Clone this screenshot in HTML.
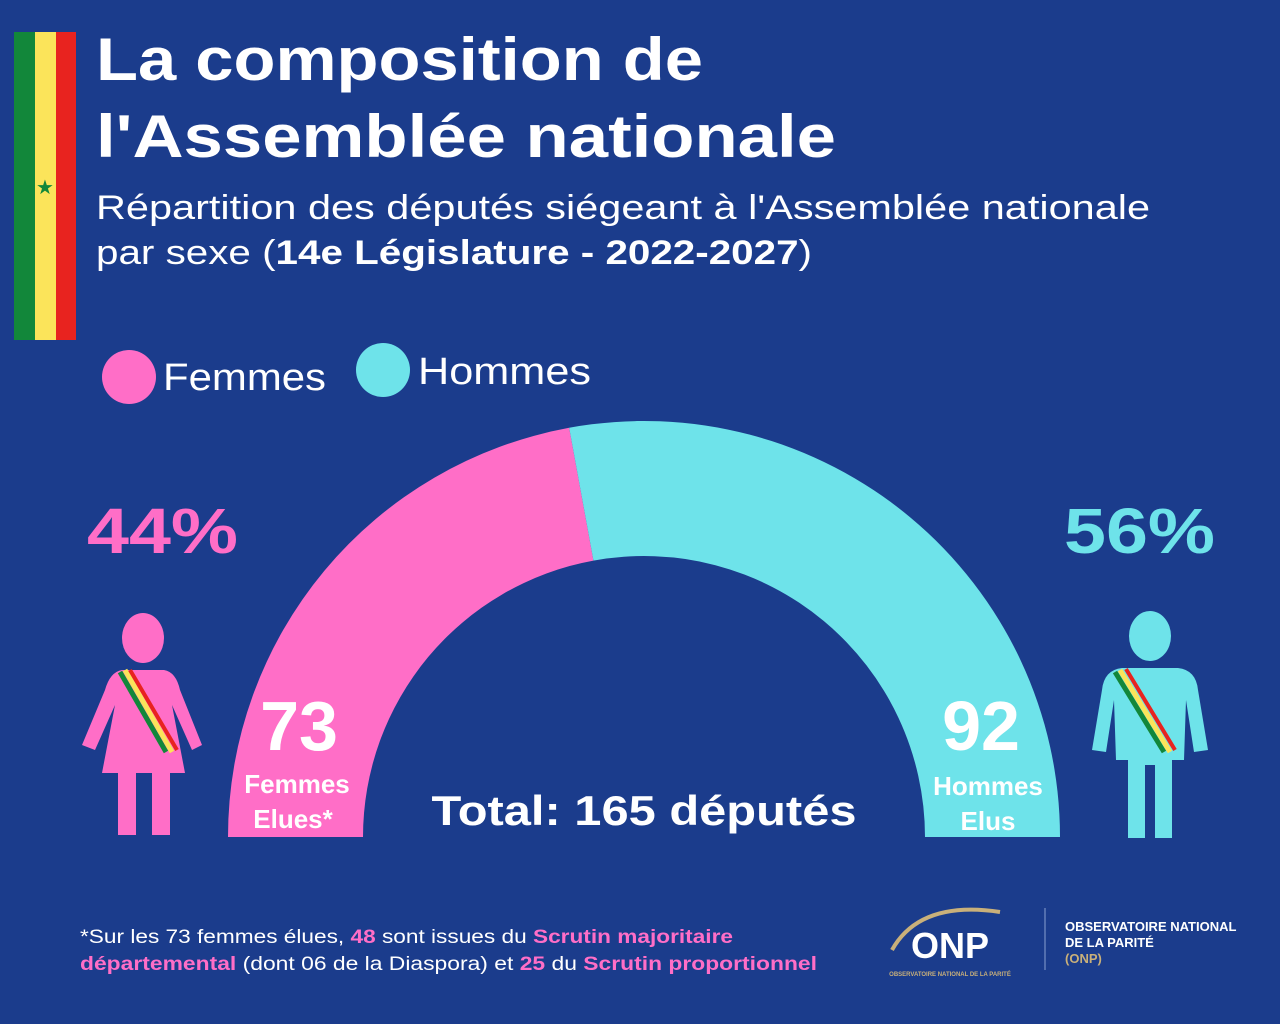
<!DOCTYPE html>
<html><head><meta charset="utf-8"><style>
html,body{margin:0;padding:0;background:#1b3c8c;}
svg{display:block;font-family:"Liberation Sans",sans-serif;}
</style></head><body>
<svg width="1280" height="1024" viewBox="0 0 1280 1024">
<rect width="1280" height="1024" fill="#1b3c8c"/>
<g>
<rect x="14" y="32" width="21" height="308" fill="#12873a"/>
<rect x="35" y="32" width="21" height="308" fill="#fbe45a"/>
<rect x="56" y="32" width="20" height="308" fill="#e8231f"/>
<text x="45" y="194" font-size="20" fill="#12873a" text-anchor="middle">★</text>
</g>
<text fill="#fff" font-weight="bold" font-size="60">
<tspan x="96" y="80" textLength="607" lengthAdjust="spacingAndGlyphs">La composition de</tspan>
<tspan x="96" y="157" textLength="740" lengthAdjust="spacingAndGlyphs">l'Assemblée nationale</tspan></text>
<text fill="#fff" font-size="34">
<tspan x="96" y="219" textLength="1054" lengthAdjust="spacingAndGlyphs">Répartition des députés siégeant à l'Assemblée nationale</tspan>
<tspan x="96" y="264" textLength="716" lengthAdjust="spacingAndGlyphs">par sexe (<tspan font-weight="bold">14e Législature - 2022-2027</tspan>)</tspan></text>
<g>
<circle cx="129" cy="377" r="27" fill="#ff6ec7"/><text x="163" y="390" font-size="38" fill="#fff" textLength="163" lengthAdjust="spacingAndGlyphs">Femmes</text>
<circle cx="383" cy="370" r="27" fill="#6ee3ea"/><text x="418" y="384" font-size="38" fill="#fff" textLength="173" lengthAdjust="spacingAndGlyphs">Hommes</text>
</g>
<g id="chart"></g>
<text x="87" y="553" font-size="64" font-weight="bold" fill="#ff6ec7" textLength="151" lengthAdjust="spacingAndGlyphs">44%</text>
<text x="1064" y="553" font-size="64" font-weight="bold" fill="#6ee3ea" textLength="151" lengthAdjust="spacingAndGlyphs">56%</text>
<g fill="#ff6ec7">
<ellipse cx="143" cy="638" rx="21" ry="25"/>
<path d="M122 670 L164 670 Q176 672 180 690 L202 745 L192 750 L172 705 L185 773 L170 773 L170 835 L152 835 L152 773 L136 773 L136 835 L118 835 L118 773 L102 773 L115 705 L95 750 L82 745 L105 690 Q110 672 122 670Z"/>
<line x1="120" y1="672" x2="166" y2="752" stroke="#12873a" stroke-width="5"/>
<line x1="125" y1="670" x2="172" y2="752" stroke="#fbe45a" stroke-width="5"/>
<line x1="130" y1="670" x2="177" y2="750" stroke="#e8231f" stroke-width="4"/>
</g>
<g fill="#6ee3ea">
<ellipse cx="1150" cy="636" rx="21" ry="25"/>
<path d="M1122 668 L1178 668 Q1196 670 1198 690 L1208 750 L1194 752 L1186 700 L1184 760 L1172 760 L1172 838 L1155 838 L1155 765 L1145 765 L1145 838 L1128 838 L1128 760 L1116 760 L1114 700 L1106 752 L1092 750 L1102 690 Q1104 670 1122 668Z"/>
<line x1="1115" y1="672" x2="1164" y2="752" stroke="#12873a" stroke-width="5"/>
<line x1="1120" y1="670" x2="1170" y2="752" stroke="#fbe45a" stroke-width="5"/>
<line x1="1126" y1="669" x2="1175" y2="750" stroke="#e8231f" stroke-width="4"/>
</g>
<g fill="#fff" font-weight="bold" text-anchor="middle">
<text x="299" y="750" font-size="70">73</text>
<text font-size="26"><tspan x="297" y="793">Femmes</tspan><tspan x="293" y="828">Elues*</tspan></text>
<text x="981" y="750" font-size="70">92</text>
<text font-size="26"><tspan x="988" y="795">Hommes</tspan><tspan x="988" y="830">Elus</tspan></text>
<text x="644" y="825" font-size="42" textLength="425" lengthAdjust="spacingAndGlyphs">Total: 165 députés</text>
</g>
<text font-size="19" fill="#fff">
<tspan x="80" y="943" textLength="653" lengthAdjust="spacingAndGlyphs">*Sur les 73 femmes élues, <tspan fill="#ff6ec7" font-weight="bold">48</tspan> sont issues du <tspan fill="#ff6ec7" font-weight="bold">Scrutin majoritaire</tspan></tspan>
<tspan x="80" y="970" textLength="737" lengthAdjust="spacingAndGlyphs"><tspan fill="#ff6ec7" font-weight="bold">départemental</tspan> (dont 06 de la Diaspora) et <tspan fill="#ff6ec7" font-weight="bold">25</tspan> du <tspan fill="#ff6ec7" font-weight="bold">Scrutin proportionnel</tspan></tspan></text>
<g>
<path d="M892 950 Q920 900 1000 912" stroke="#c9b07a" stroke-width="4" fill="none"/>
<text x="950" y="958" font-size="36" font-weight="bold" fill="#fff" text-anchor="middle">ONP</text>
<text x="950" y="976" font-size="6" font-weight="bold" fill="#c9b07a" text-anchor="middle">OBSERVATOIRE NATIONAL DE LA PARITÉ</text>
<line x1="1045" y1="908" x2="1045" y2="970" stroke="#8aa0d0" stroke-width="1"/>
<text font-size="13" font-weight="bold" fill="#fff"><tspan x="1065" y="931">OBSERVATOIRE NATIONAL</tspan><tspan x="1065" y="947">DE LA PARITÉ</tspan><tspan x="1065" y="963" fill="#c9b07a">(ONP)</tspan></text>
</g>
</svg>
<script>
const categories = ['Femmes', 'Hommes'];
const seats = [73, 92];
const colors = ['#ff6ec7', '#6ee3ea'];
const cx = 644, cy = 837, R = 416, r = 281;
const total = seats.reduce((a, b) => a + b, 0);
const angle = v => Math.PI - Math.PI * v / total;
const g = document.getElementById('chart');
let acc = 0;
seats.forEach((v, i) => {
  const a0 = angle(acc), a1 = angle(acc + v);
  acc += v;
  const p = (rad, a) => (cx + rad * Math.cos(a)).toFixed(2) + ' ' + (cy - rad * Math.sin(a)).toFixed(2);
  const d = 'M' + p(R, a0) + ' A' + R + ' ' + R + ' 0 0 1 ' + p(R, a1) + ' L' + p(r, a1) + ' A' + r + ' ' + r + ' 0 0 0 ' + p(r, a0) + 'Z';
  const el = document.createElementNS('http://www.w3.org/2000/svg', 'path');
  el.setAttribute('d', d);
  el.setAttribute('fill', colors[i]);
  
  
  g.appendChild(el);
});
</script>
</body></html>
